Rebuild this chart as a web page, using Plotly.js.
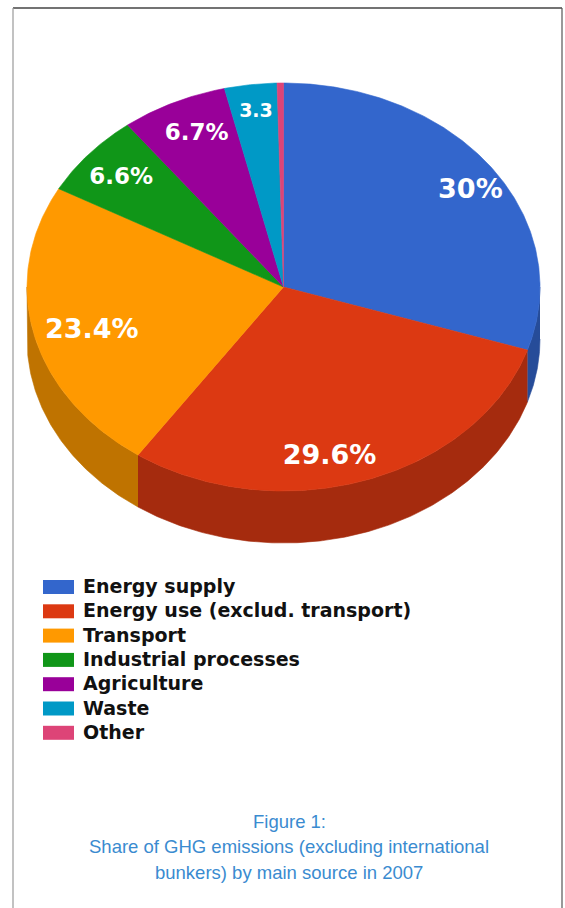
<!DOCTYPE html>
<html><head><meta charset="utf-8">
<script src="https://cdn.plot.ly/plotly-3.0.1.min.js"></script>
<style>html,body{margin:0;padding:0;background:#fff;} #chart{width:565px;height:908px;}</style>
</head><body><div id="chart"></div>
<script>
// ---- data ----
const categories = ["Energy supply", "Energy use (exclud. transport)", "Transport", "Industrial processes", "Agriculture", "Waste", "Other"];
const shares = [30, 29.6, 23.4, 6.6, 6.7, 3.3, 0.4];
const sliceLabels = ["30%", "29.6%", "23.4%", "6.6%", "6.7%", "3.3", ""];
const captionLines = ["Figure 1:", "Share of GHG emissions (excluding international", "bunkers) by main source in 2007"];

// ---- styles ----
const colors = ["#3366CC", "#DC3912", "#FF9900", "#109618", "#990099", "#0099C6", "#DD4477"];
const sideColors = ["#264C99", "#A52B0E", "#BF7300", "#0C7012", "#720072", "#007294", "#A6335A"];
const labelSizes = [27, 27, 27, 23, 23, 19, 10];
// small pixel nudges of slice labels away from the mid-angle anchor
const labelNudgeX = [10.5, -24, 20.5, 3, 6.5, 0.5, 0];
const labelNudgeY = [6.4, 6, 4.5, 4.5, 3.7, -3, 0];

const W = 565, H = 908;
const CX = 283.5, CY = 287, RX = 256.5, RY = 204, DEPTH = 52, LABEL_R = 0.85;
const total = shares.reduce((a, b) => a + b, 0);

function pt(theta, dy) {
  const r = theta * Math.PI / 180;
  return [CX + RX * Math.sin(r), CY - RY * Math.cos(r) + (dy || 0)];
}
function arc(a0, a1, dy) {
  const xs = [], ys = [];
  const n = Math.max(2, Math.ceil(Math.abs(a1 - a0) / 0.5));
  for (let i = 0; i <= n; i++) {
    const p = pt(a0 + (a1 - a0) * i / n, dy);
    xs.push(p[0]); ys.push(p[1]);
  }
  return [xs, ys];
}

const sides = [], tops = [];
const lx = [], ly = [], lt = [], ls = [];
let acc = 0;
shares.forEach((v, i) => {
  const a0 = acc / total * 360, a1 = (acc + v) / total * 360;
  acc += v;
  // side wall (front half only)
  const s0 = Math.max(a0, 90), s1 = Math.min(a1, 270);
  if (s1 > s0) {
    const top = arc(s0, s1, 0), bot = arc(s1, s0, DEPTH);
    sides.push({
      type: 'scatter', mode: 'lines', fill: 'toself',
      x: top[0].concat(bot[0]), y: top[1].concat(bot[1]),
      fillcolor: sideColors[i], line: {color: sideColors[i], width: 0.6},
      hoverinfo: 'skip', showlegend: false
    });
  }
  const a = arc(a0, a1, 0);
  tops.push({
    type: 'scatter', mode: 'lines', fill: 'toself', name: categories[i],
    x: [CX].concat(a[0], [CX]), y: [CY].concat(a[1], [CY]),
    fillcolor: colors[i], line: {color: colors[i], width: 0.6},
    hoverinfo: 'skip', showlegend: false
  });
  if (sliceLabels[i]) {
    const m = (a0 + a1) / 2 * Math.PI / 180;
    lx.push(CX + RX * LABEL_R * Math.sin(m) + labelNudgeX[i]);
    ly.push(CY - RY * LABEL_R * Math.cos(m) + labelNudgeY[i]);
    lt.push(sliceLabels[i]);
    ls.push(labelSizes[i]);
  }
});

const labelTrace = {
  type: 'scatter', mode: 'text', x: lx, y: ly, text: lt,
  textposition: 'middle center',
  textfont: {family: 'DejaVu Sans', size: ls, color: '#ffffff', weight: 'bold'},
  hoverinfo: 'skip', showlegend: false
};

const shapes = [
  {type: 'line', xref: 'x', yref: 'y', x0: 13, x1: 562, y0: 8, y1: 8, line: {color: '#444', width: 1.5}},
  {type: 'line', xref: 'x', yref: 'y', x0: 13, x1: 13, y0: 8, y1: 908, line: {color: '#999', width: 1.2}},
  {type: 'line', xref: 'x', yref: 'y', x0: 562, x1: 562, y0: 8, y1: 908, line: {color: '#555', width: 1.2}}
];
const annotations = [];
categories.forEach((c, i) => {
  const yc = 587 + i * 24.3;
  shapes.push({type: 'rect', xref: 'x', yref: 'y', x0: 43, x1: 74, y0: yc - 7, y1: yc + 7,
    fillcolor: colors[i], line: {width: 0}});
  annotations.push({xref: 'x', yref: 'y', x: 81, y: yc - 1, xanchor: 'left', yanchor: 'middle',
    text: c, showarrow: false,
    font: {family: 'DejaVu Sans', size: 19, color: '#111', weight: 'bold'}});
});
captionLines.forEach((t, i) => {
  annotations.push({xref: 'x', yref: 'y', x: 289, y: 821 + i * 25.5, xanchor: 'center', yanchor: 'middle',
    text: t, showarrow: false,
    font: {family: 'Liberation Sans', size: 18.5, color: '#3a8bd0'}});
});

const layout = {
  width: W, height: H, margin: {l: 0, r: 0, t: 0, b: 0, pad: 0},
  paper_bgcolor: '#ffffff', plot_bgcolor: '#ffffff',
  xaxis: {range: [0, W], visible: false, fixedrange: true},
  yaxis: {range: [H, 0], visible: false, fixedrange: true},
  showlegend: false, shapes: shapes, annotations: annotations
};
Plotly.newPlot('chart', sides.concat(tops, [labelTrace]), layout, {displayModeBar: false, staticPlot: true});
</script>
</body></html>
